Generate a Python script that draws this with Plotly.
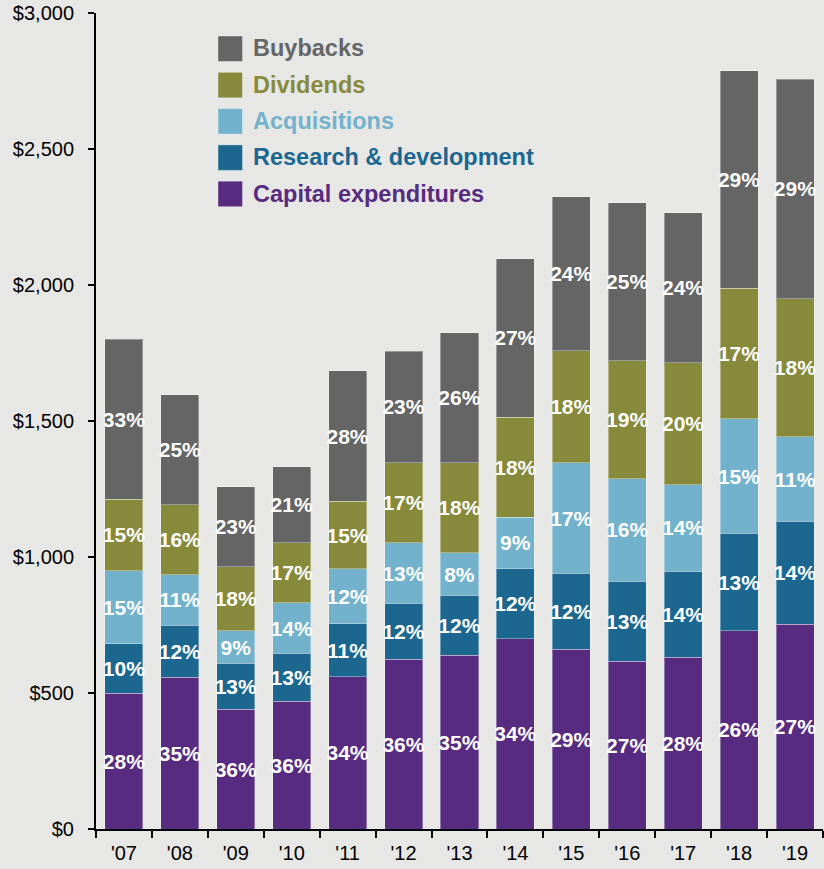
import plotly.graph_objects as go

# ---- data (USD billions) ----
years = ["'07", "'08", "'09", "'10", "'11", "'12", "'13", "'14", "'15", "'16", "'17", "'18", "'19"]

capex = [500, 558, 441, 469, 559, 625, 639, 699, 661, 617, 631, 728, 752]
rnd = [182, 191, 168, 177, 196, 205, 220, 257, 279, 294, 317, 359, 379]
acquisitions = [267, 186, 119, 185, 201, 222, 156, 191, 406, 377, 318, 421, 311]
dividends = [264, 257, 236, 221, 249, 294, 331, 367, 412, 433, 448, 480, 508]
buybacks = [588, 404, 294, 279, 479, 411, 479, 583, 566, 581, 551, 799, 807]

capex_pct = ["28%", "35%", "36%", "36%", "34%", "36%", "35%", "34%", "29%", "27%", "28%", "26%", "27%"]
rnd_pct = ["10%", "12%", "13%", "13%", "11%", "12%", "12%", "12%", "12%", "13%", "14%", "13%", "14%"]
acq_pct = ["15%", "11%", "9%", "14%", "12%", "13%", "8%", "9%", "17%", "16%", "14%", "15%", "11%"]
div_pct = ["15%", "16%", "18%", "17%", "15%", "17%", "18%", "18%", "18%", "19%", "20%", "17%", "18%"]
buy_pct = ["33%", "25%", "23%", "21%", "28%", "23%", "26%", "27%", "24%", "25%", "24%", "29%", "29%"]

series_names = ["Capital expenditures", "Research & development", "Acquisitions", "Dividends", "Buybacks"]
series_values = [capex, rnd, acquisitions, dividends, buybacks]
series_labels = [capex_pct, rnd_pct, acq_pct, div_pct, buy_pct]
series_colors = ["#572b80", "#1b678f", "#72b2cc", "#878a3a", "#656565"]

y_ticks = [0, 500, 1000, 1500, 2000, 2500, 3000]
y_tick_text = ["$0", "$500", "$1,000", "$1,500", "$2,000", "$2,500", "$3,000"]

# ---- layout geometry (pixels) ----
W, H = 824, 869
ML, MR, MT, MB = 96, 1, 13, 40
PW, PH = W - ML - MR, H - MT - MB
FONT = "Liberation Sans, Arial, sans-serif"
BG = "#e7e7e5"


def px_x(x):
    return (x - ML) / PW


def px_y(y):
    return (H - MB - y) / PH


fig = go.Figure()
for name, vals, labs, col in zip(series_names, series_values, series_labels, series_colors):
    fig.add_trace(go.Bar(
        x=years, y=vals, name=name, text=labs,
        marker=dict(color=col, line=dict(color="rgba(255,255,255,0.35)", width=1)),
        textposition="inside", insidetextanchor="middle", textangle=0,
        constraintext="none",
        textfont=dict(color="white", size=21, family=FONT, weight="bold"),
        showlegend=False,
    ))

# ---- custom legend (top-left, big squares, coloured bold text) ----
leg_top = 36
leg_step = 36.3
sq = 24.5
for i, (name, col) in enumerate(reversed(list(zip(series_names, series_colors)))):
    top = leg_top + i * leg_step
    fig.add_shape(type="rect", xref="paper", yref="paper",
                  x0=px_x(218), x1=px_x(218 + sq), y0=px_y(top + 25.5), y1=px_y(top),
                  fillcolor=col, line=dict(color="rgba(255,255,255,0.35)", width=1))
    fig.add_annotation(xref="paper", yref="paper", x=px_x(251), y=px_y(top + 12.5),
                       xanchor="left", yanchor="middle", showarrow=False,
                       text="<b>%s</b>" % name,
                       font=dict(family=FONT, size=23.5, color=col))

fig.update_layout(
    width=W, height=H,
    margin=dict(l=ML, r=MR, t=MT, b=MB, pad=0),
    barmode="stack", bargap=0.32,
    paper_bgcolor=BG, plot_bgcolor=BG,
    font=dict(family=FONT, size=20, color="black"),
    xaxis=dict(
        type="category", range=[-0.5, 12.5],
        showline=True, linecolor="black", linewidth=2,
        ticks="outside", ticklen=7, tickwidth=2, tickcolor="black",
        tickson="boundaries", showgrid=False, zeroline=False,
        tickfont=dict(size=20, family=FONT, color="black"),
        ticklabelstandoff=5,
    ),
    yaxis=dict(
        range=[0, 3000], tickvals=y_ticks, ticktext=y_tick_text,
        showline=True, linecolor="black", linewidth=2,
        ticks="outside", ticklen=6, tickwidth=2, tickcolor="black",
        showgrid=False, zeroline=False,
        tickfont=dict(size=20, family=FONT, color="black"),
        ticklabelstandoff=10,
    ),
)

fig.write_html("out.html", config={"displayModeBar": False},
               post_script="document.body.style.margin='0';document.body.style.background='%s';" % BG)
